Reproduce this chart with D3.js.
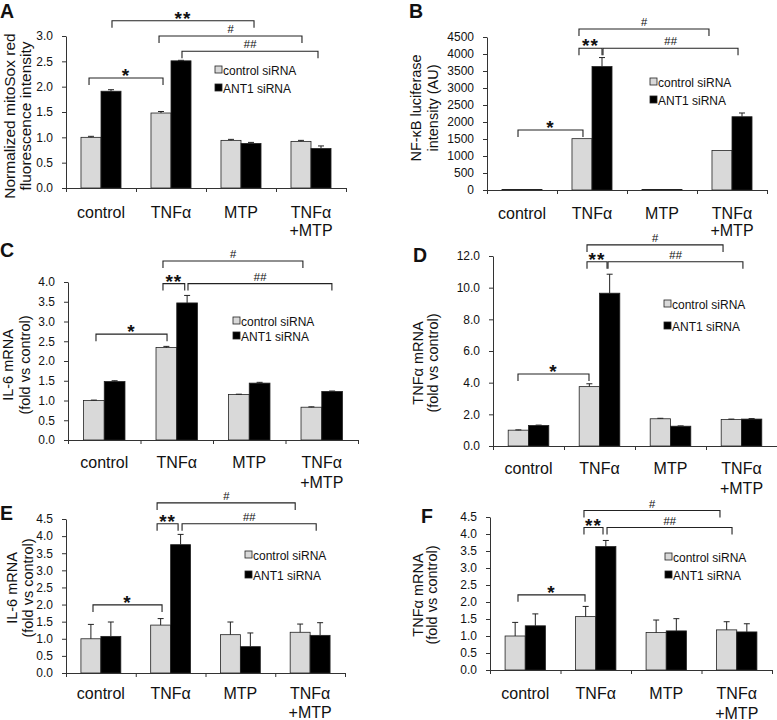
<!DOCTYPE html>
<html><head><meta charset="utf-8">
<script src="https://cdn.jsdelivr.net/npm/d3@7"></script>
<style>
body{margin:0;background:#fff}
svg{display:block}
text{font-family:"Liberation Sans",Arial,Helvetica,sans-serif;fill:#111}
.tick text{font-family:"Liberation Sans Narrow","Liberation Sans",Arial,sans-serif}
</style>
</head><body>
<svg id="chart" width="777" height="720"></svg>
<script>
// ---------- data ----------
const categories = ["control", "TNFα", "MTP", "TNFα\n+MTP"];
const seriesNames = ["control siRNA", "ANT1 siRNA"];

// A: mitoSox
const aControl = [1.00, 1.48, 0.94, 0.92];
const aControlErr = [0.02, 0.03, 0.02, 0.02];
const aAnt1 = [1.91, 2.51, 0.88, 0.78];
const aAnt1Err = [0.03, 0.01, 0.02, 0.05];
const aTicks = [0, 0.5, 1.0, 1.5, 2.0, 2.5, 3.0];
const aTitle = ["Normalized mitoSox red", "fluorescence intensity"];
const aBrackets = [
  {x1: 0.657, x2: 2.686, y: 3.30, label: "**"},
  {x1: 1.329, x2: 3.371, y: 3.00, label: "#"},
  {x1: 1.657, x2: 3.600, y: 2.70, label: "##"},
  {x1: 0.329, x2: 1.386, y: 2.17, label: "*"}
];

// B: NF-kB luciferase
const bControl = [15, 1510, 15, 1160];
const bControlErr = [0, 0, 0, 0];
const bAnt1 = [15, 3630, 15, 2155];
const bAnt1Err = [0, 265, 0, 110];
const bTicks = [0, 500, 1000, 1500, 2000, 2500, 3000, 3500, 4000, 4500];
const bTitle = ["NF-κB luciferase", "intensity (AU)"];
const bBrackets = [
  {x1: 0.443, x2: 1.371, y: 1765, label: "*"},
  {x1: 1.314, x2: 3.171, y: 4735, label: "#"},
  {x1: 1.314, x2: 1.643, y: 4168, label: "**"},
  {x1: 1.657, x2: 3.586, y: 4168, label: "##"}
];

// C: IL-6 mRNA
const cControl = [1.00, 2.34, 1.15, 0.83];
const cControlErr = [0.01, 0.03, 0.01, 0.01];
const cAnt1 = [1.48, 3.47, 1.44, 1.23];
const cAnt1Err = [0.02, 0.19, 0.02, 0.01];
const cTicks = [0, 0.5, 1.0, 1.5, 2.0, 2.5, 3.0, 3.5, 4.0];
const cTitle = ["IL-6 mRNA", "(fold vs control)"];
const cBrackets = [
  {x1: 1.310, x2: 3.240, y: 4.53, label: "#"},
  {x1: 1.310, x2: 1.610, y: 3.96, label: "**"},
  {x1: 1.655, x2: 3.640, y: 3.96, label: "##"},
  {x1: 0.386, x2: 1.366, y: 2.68, label: "*"}
];

// D: TNFα mRNA
const dControl = [1.00, 3.75, 1.72, 1.68];
const dControlErr = [0.02, 0.18, 0.03, 0.02];
const dAnt1 = [1.30, 9.65, 1.25, 1.70];
const dAnt1Err = [0.02, 1.20, 0.02, 0.03];
const dTicks = [0, 2, 4, 6, 8, 10, 12];
const dTitle = ["TNFα mRNA", "(fold vs control)"];
const dBrackets = [
  {x1: 1.324, x2: 3.240, y: 12.7, label: "#"},
  {x1: 1.324, x2: 1.606, y: 11.64, label: "**"},
  {x1: 1.620, x2: 3.520, y: 11.64, label: "##"},
  {x1: 0.352, x2: 1.352, y: 4.55, label: "*"}
];

// E: IL-6 mRNA
const eControl = [1.00, 1.40, 1.12, 1.19];
const eControlErr = [0.42, 0.19, 0.37, 0.24];
const eAnt1 = [1.07, 3.75, 0.77, 1.10];
const eAnt1Err = [0.42, 0.30, 0.40, 0.37];
const eTicks = [0, 0.5, 1.0, 1.5, 2.0, 2.5, 3.0, 3.5, 4.0, 4.5];
const eTitle = ["IL-6 mRNA", "(fold vs control)"];
const eBrackets = [
  {x1: 1.306, x2: 3.286, y: 4.97, label: "#"},
  {x1: 1.306, x2: 1.607, y: 4.36, label: "**"},
  {x1: 1.664, x2: 3.587, y: 4.36, label: "##"},
  {x1: 0.387, x2: 1.377, y: 1.99, label: "*"}
];

// F: TNFα mRNA
const fControl = [1.00, 1.57, 1.10, 1.18];
const fControlErr = [0.40, 0.30, 0.37, 0.24];
const fAnt1 = [1.30, 3.63, 1.15, 1.12];
const fAnt1Err = [0.35, 0.18, 0.36, 0.24];
const fTicks = [0, 0.5, 1.0, 1.5, 2.0, 2.5, 3.0, 3.5, 4.0, 4.5];
const fTitle = ["TNFα mRNA", "(fold vs control)"];
const fBrackets = [
  {x1: 1.333, x2: 3.262, y: 4.69, label: "#"},
  {x1: 1.333, x2: 1.603, y: 4.19, label: "**"},
  {x1: 1.660, x2: 3.433, y: 4.19, label: "##"},
  {x1: 0.397, x2: 1.348, y: 2.21, label: "*"}
];

// ---------- layout ----------
const panels = [
  {letter: "A", s: [aControl, aAnt1], e: [aControlErr, aAnt1Err], ticks: aTicks, fmt: ".1f", title: aTitle, brackets: aBrackets,
   L: {x0: 66, x1: 346, yTop: 36, yBot: 188, lx: 0, ly: 18, tx: [9, 25], ty: 116, ts: 15.5, legX: 215, legY: [70, 88], labOff: 30, labLine: 18}},
  {letter: "B", s: [bControl, bAnt1], e: [bControlErr, bAnt1Err], ticks: bTicks, fmt: "d", title: bTitle, brackets: bBrackets,
   L: {x0: 487, x1: 767, yTop: 37, yBot: 190, lx: 409, ly: 18, tx: [416, 433], ty: 108, ts: 14.5, legX: 650, legY: [82, 100], labOff: 28.5, labLine: 17}},
  {letter: "C", s: [cControl, cAnt1], e: [cControlErr, cAnt1Err], ticks: cTicks, fmt: ".1f", title: cTitle, brackets: cBrackets,
   L: {x0: 68, x1: 358, yTop: 282, yBot: 440, lx: 0, ly: 257, tx: [8, 25], ty: 365, ts: 14.5, legX: 233, legY: [321, 336], labOff: 27.5, labLine: 20}},
  {letter: "D", s: [dControl, dAnt1], e: [dControlErr, dAnt1Err], ticks: dTicks, fmt: ".1f", title: dTitle, brackets: dBrackets,
   L: {x0: 493, x1: 777, yTop: 256, yBot: 446, lx: 413, ly: 262, tx: [418, 433], ty: 363, ts: 14.5, legX: 664, legY: [304, 326], labOff: 27.5, labLine: 20}},
  {letter: "E", s: [eControl, eAnt1], e: [eControlErr, eAnt1Err], ticks: eTicks, fmt: ".1f", title: eTitle, brackets: eBrackets,
   L: {x0: 66, x1: 345, yTop: 519, yBot: 673, lx: 0, ly: 520, tx: [12, 28], ty: 588, ts: 14.5, legX: 245, legY: [555, 575], labOff: 25.5, labLine: 19}},
  {letter: "F", s: [fControl, fAnt1], e: [fControlErr, fAnt1Err], ticks: fTicks, fmt: ".1f", title: fTitle, brackets: fBrackets,
   L: {x0: 490, x1: 772, yTop: 517, yBot: 670, lx: 421, ly: 523, tx: [418, 432], ty: 595, ts: 14.5, legX: 665, legY: [557, 575], labOff: 28.5, labLine: 20}}
];

const fills = ["#d9d9d9", "#000000"];
const svg = d3.select("#chart");

function drawPanel(p) {
  const L = p.L;
  const g = svg.append("g");
  const nCat = categories.length;
  const x = d3.scaleBand().domain(d3.range(nCat)).range([L.x0, L.x1]).padding(0);
  const xc = d3.scaleLinear().domain([0, nCat]).range([L.x0, L.x1]);
  const y = d3.scaleLinear().domain([0, p.ticks[p.ticks.length - 1]]).range([L.yBot, L.yTop]);
  const bw = x.bandwidth();
  const barW = bw * 0.286;

  // bars
  p.s.forEach((vals, si) => {
    const bx = i => x(i) + bw / 2 - barW + si * barW;
    g.append("g").selectAll("rect").data(vals).join("rect")
      .attr("x", (d, i) => bx(i))
      .attr("y", d => y(d))
      .attr("width", barW)
      .attr("height", d => y(0) - y(d))
      .attr("fill", fills[si])
      .attr("stroke", "#222")
      .attr("stroke-width", 0.8);
    // error bars (plus direction)
    const eg = g.append("g").attr("stroke", "#222").attr("stroke-width", 1);
    vals.forEach((v, i) => {
      const er = p.e[si][i];
      if (er <= 0) return;
      const cx = bx(i) + barW / 2;
      eg.append("line").attr("x1", cx).attr("x2", cx).attr("y1", y(v)).attr("y2", y(v + er));
      eg.append("line").attr("x1", cx - 3).attr("x2", cx + 3).attr("y1", y(v + er)).attr("y2", y(v + er));
    });
  });

  // y axis
  const ya = g.append("g").attr("transform", `translate(${L.x0},0)`)
    .call(d3.axisLeft(y).tickValues(p.ticks).tickFormat(d3.format(p.fmt)).tickSize(4).tickSizeOuter(0).tickPadding(9));
  ya.selectAll("text").attr("font-size", 12).attr("fill", "#222");
  ya.selectAll("line,path").attr("stroke", "#333");

  // x axis
  const xa = g.append("g").attr("transform", `translate(0,${L.yBot})`)
    .call(d3.axisBottom(xc).tickValues(d3.range(nCat + 1)).tickSize(4).tickSizeOuter(0).tickFormat(""));
  xa.selectAll("line,path").attr("stroke", "#333");

  // category labels
  categories.forEach((c, i) => {
    const t = g.append("text").attr("text-anchor", "middle").attr("font-size", 16)
      .attr("x", x(i) + bw / 2).attr("y", L.yBot + L.labOff);
    c.split("\n").forEach((line, li) => {
      t.append("tspan").attr("x", x(i) + bw / 2).attr("dy", li === 0 ? 0 : L.labLine).text(line);
    });
  });

  // y title
  p.title.forEach((line, li) => {
    g.append("text").attr("transform", `translate(${L.tx[li]},${L.ty}) rotate(-90)`)
      .attr("text-anchor", "middle").attr("dominant-baseline", "central")
      .attr("font-size", L.ts).text(line);
  });

  // panel letter
  g.append("text").attr("x", L.lx).attr("y", L.ly).attr("font-size", 19.5).attr("font-weight", "bold").text(p.letter);

  // legend
  seriesNames.forEach((name, si) => {
    g.append("rect").attr("x", L.legX).attr("y", L.legY[si] - 4).attr("width", 7).attr("height", 7)
      .attr("fill", fills[si]).attr("stroke", "#222").attr("stroke-width", 0.8);
    g.append("text").attr("x", L.legX + 8).attr("y", L.legY[si] + 4.5).attr("font-size", 12).text(name);
  });

  // significance brackets
  p.brackets.forEach(b => {
    const x1 = xc(b.x1), x2 = xc(b.x2), yy = y(b.y);
    g.append("path").attr("d", `M${x1},${yy + 7}V${yy}H${x2}V${yy + 7}`)
      .attr("fill", "none").attr("stroke", "#222").attr("stroke-width", 1.1);
    const star = b.label.indexOf("*") >= 0;
    g.append("text").attr("x", (x1 + x2) / 2).attr("y", star ? yy + 4 : yy - 3)
      .attr("text-anchor", "middle")
      .attr("font-size", star ? 19 : 11.5)
      .attr("font-weight", star ? "bold" : "normal")
      .attr("font-style", star ? "normal" : "italic")
      .attr("letter-spacing", star ? 1 : 0)
      .attr("fill", star ? "#000" : "#333")
      .text(b.label);
  });
}

panels.forEach(drawPanel);
</script>
</body></html>
